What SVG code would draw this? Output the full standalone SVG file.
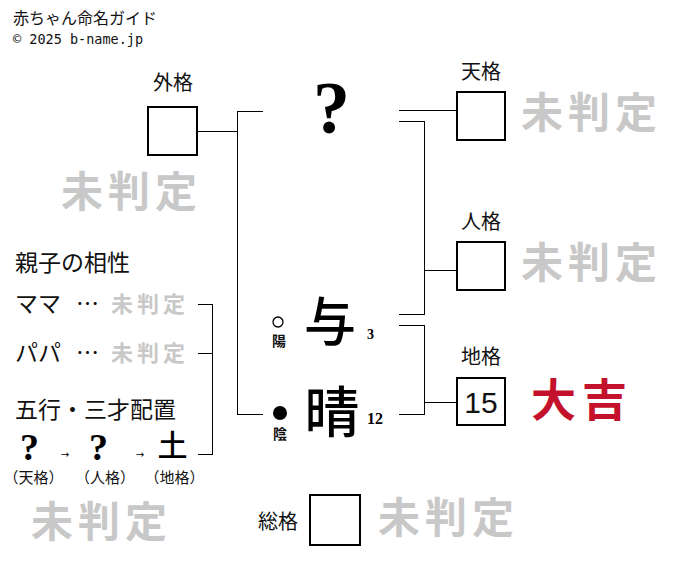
<svg xmlns="http://www.w3.org/2000/svg" width="676" height="562" viewBox="0 0 676 562">
<style>
.jp{font-family:"Noto Sans CJK JP","Noto Sans CJK SC",sans-serif;fill:#111}
.lbl{font-size:20px}
.side{font-size:23px}
.mi{font-family:"Noto Sans CJK JP",sans-serif;font-weight:700;fill:#c8c8c8;font-size:42px;letter-spacing:5px}
.mis{font-family:"Noto Sans CJK JP",sans-serif;font-weight:700;fill:#c8c8c8;font-size:22px;letter-spacing:4px}
.box{fill:#fff;stroke:#000;stroke-width:2}
.ser{font-family:"Liberation Serif",serif;font-weight:700;fill:#000}
.big{font-family:"Noto Sans CJK JP",sans-serif;font-weight:500;fill:#000;text-anchor:middle}
.ln{fill:none;stroke:#000;stroke-width:1;shape-rendering:crispEdges}
</style>
<rect width="676" height="562" fill="#fff"/>
<g id="title">
<text class="jp" x="13" y="24" font-size="16">赤ちゃん命名ガイド</text>
<text x="13" y="44" font-family="DejaVu Sans Mono,monospace" font-size="13.5" fill="#111">© 2025 b-name.jp</text>
</g>
<g id="connectors">
<path class="ln" d="M197,131.5H237.5M263,111.5H237.5V414.5H263"/>
<path class="ln" d="M399,110.5H457"/>
<path class="ln" d="M399,121.5H424.5V314.5H399M424.5,270.5H457"/>
<path class="ln" d="M399,325.5H424.5V414.5H399M424.5,402.5H457"/>
<path class="ln" d="M198,304.5H212.5V454.5H198M198,353.5H212.5"/>
</g>
<g id="gaikaku">
<text class="jp lbl" x="173" y="90" text-anchor="middle">外格</text>
<rect class="box" x="148" y="107" width="49" height="48"/>
<text class="mi" x="61" y="207">未判定</text>
</g>
<g id="tenkaku">
<text class="jp lbl" x="481" y="79" text-anchor="middle">天格</text>
<rect class="box" x="457" y="92" width="48" height="48"/>
<text class="mi" x="521" y="128">未判定</text>
</g>
<g id="jinkaku">
<text class="jp lbl" x="481" y="229" text-anchor="middle">人格</text>
<rect class="box" x="457" y="242" width="48" height="48"/>
<text class="mi" x="521" y="278">未判定</text>
</g>
<g id="chikaku">
<text class="jp lbl" x="481" y="364" text-anchor="middle">地格</text>
<rect class="box" x="457" y="378" width="48" height="47"/>
<text x="481" y="413" text-anchor="middle" font-family="Liberation Sans,sans-serif" font-size="30" fill="#111">15</text>
<text x="531" y="417" font-family="Noto Sans CJK JP,sans-serif" font-weight="700" font-size="45" letter-spacing="6" fill="#c4122c">大吉</text>
</g>
<g id="soukaku">
<text class="jp lbl" x="258" y="529">総格</text>
<rect class="box" x="310" y="495" width="50" height="50"/>
<text class="mi" x="378" y="533">未判定</text>
</g>
<g id="name-top">
<text class="ser" x="331.5" y="133" font-size="74" text-anchor="middle">?</text>
</g>
<g id="name-1">
<circle cx="278" cy="322" r="5" fill="none" stroke="#000" stroke-width="1.3"/>
<text class="jp" x="279" y="346" font-size="14" font-weight="700" text-anchor="middle">陽</text>
<text class="big" x="330" y="341" font-size="52">与</text>
<text class="ser" x="367" y="339" font-size="14">3</text>
</g>
<g id="name-2">
<circle cx="280" cy="413" r="7" fill="#000"/>
<text class="jp" x="280" y="439" font-size="14" font-weight="700" text-anchor="middle">陰</text>
<text class="big" x="332" y="432" font-size="55">晴</text>
<text class="ser" x="367" y="424" font-size="16">12</text>
</g>
<g id="compat">
<text class="jp side" x="15" y="271">親子の相性</text>
<text class="jp side" x="15" y="312">ママ</text>
<text class="jp side" x="76" y="312">…</text>
<text class="mis" x="111" y="312">未判定</text>
<text class="jp side" x="15" y="361">パパ</text>
<text class="jp side" x="76" y="361">…</text>
<text class="mis" x="111" y="361">未判定</text>
</g>
<g id="gogyou">
<text class="jp side" x="15" y="418">五行・三才配置</text>
<text class="ser" x="29.5" y="460" font-size="38" text-anchor="middle">?</text>
<text x="65" y="458" font-family="DejaVu Sans,sans-serif" font-size="10" text-anchor="middle" fill="#000">→</text>
<text class="ser" x="98.5" y="460" font-size="38" text-anchor="middle">?</text>
<text x="140" y="458" font-family="DejaVu Sans,sans-serif" font-size="10" text-anchor="middle" fill="#000">→</text>
<text class="big" x="172.5" y="456" font-size="30">土</text>
<text class="jp" x="33.5" y="483" font-size="15" text-anchor="middle">（天格）</text>
<text class="jp" x="105" y="483" font-size="15" text-anchor="middle">（人格）</text>
<text class="jp" x="174.5" y="483" font-size="15" text-anchor="middle">（地格）</text>
<text class="mi" x="31" y="537">未判定</text>
</g>
</svg>
